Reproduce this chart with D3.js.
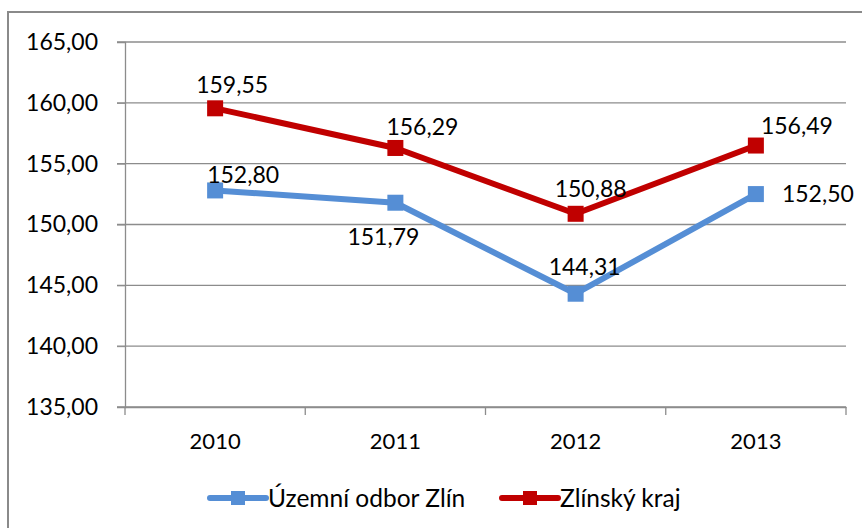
<!DOCTYPE html>
<html>
<head>
<meta charset="utf-8">
<script src="https://cdn.jsdelivr.net/npm/d3@7"></script>
<style>
  body { margin: 0; background: #fff; }
  svg { display: block; font-family: Lato, "Open Sans", sans-serif; }
</style>
</head>
<body>
<div id="chart"></div>
<script>
// Data
const years = ["2010", "2011", "2012", "2013"];
const uzemniOdbor = [152.80, 151.79, 144.31, 152.50];
const zlinskyKraj = [159.55, 156.29, 150.88, 156.49];
const yTicks = [135, 140, 145, 150, 155, 160, 165];
const seriesNames = ["Územní odbor Zlín", "Zlínský kraj"];

// label placement per point (dx from point centre, dy to baseline)
const labelOffsetsBlue = [[28, -7], [-12, 42], [9, -19], [62, 8]];
const labelOffsetsRed = [[17, -15], [27, -13], [15, -17], [41, -12]];

const width = 862, height = 528;
const margin = { top: 42, right: 16, bottom: 121, left: 125 };
const plotW = width - margin.left - margin.right,
  plotH = height - margin.top - margin.bottom;

const svg = d3.select("#chart").append("svg")
  .attr("width", width)
  .attr("height", height);

// outer chart border (right & bottom run off the picture)
svg.append("rect")
  .attr("x", 8).attr("y", 12)
  .attr("width", 870).attr("height", 540)
  .attr("fill", "none")
  .attr("stroke", "#8a8a8a")
  .attr("stroke-width", 2);

const g = svg.append("g")
  .attr("transform", "translate(" + margin.left + "," + margin.top + ")");

const x = d3.scalePoint().domain(years).range([0, plotW]).padding(0.5);
const xBand = d3.scaleBand().domain(years).range([0, plotW]);
const y = d3.scaleLinear().domain([135, 165]).range([plotH, 0]);

const fmt = v => d3.format(".2f")(v).replace(".", ",");

// gridlines
g.selectAll(".grid")
  .data(yTicks)
  .enter().append("line")
  .attr("x1", -8).attr("x2", plotW)
  .attr("y1", d => y(d)).attr("y2", d => y(d))
  .attr("stroke", "#8c8c8c")
  .attr("stroke-width", 1.3);

// y axis
const yAxis = g.append("g")
  .call(d3.axisLeft(y).tickValues(yTicks).tickFormat(fmt).tickSize(8));
yAxis.select(".domain").attr("stroke", "#8c8c8c").attr("stroke-width", 1.3);
yAxis.selectAll(".tick line").attr("stroke", "#8c8c8c");
yAxis.selectAll("text")
  .attr("x", -27)
  .attr("fill", "#000")
  .style("font-size", "23px")
  .style("font-family", "Lato, sans-serif");

// x axis
const xAxis = g.append("g")
  .attr("transform", "translate(0," + plotH + ")")
  .call(d3.axisBottom(xBand).tickSize(0).tickSizeOuter(0));
xAxis.select(".domain").attr("stroke", "#8c8c8c").attr("stroke-width", 1.3);
xAxis.selectAll("text")
  .attr("y", 26)
  .attr("dy", "0.71em")
  .attr("fill", "#000")
  .style("font-size", "22px")
  .style("font-family", "Lato, sans-serif");

// category boundary ticks
const edges = years.map(d => xBand(d)).concat([plotW]);
g.selectAll(".xtick")
  .data(edges)
  .enter().append("line")
  .attr("x1", d => d).attr("x2", d => d)
  .attr("y1", plotH).attr("y2", plotH + 8)
  .attr("stroke", "#8c8c8c")
  .attr("stroke-width", 1.3);

const series = [
  { name: seriesNames[0], values: uzemniOdbor, color: "#558ed5", offsets: labelOffsetsBlue },
  { name: seriesNames[1], values: zlinskyKraj, color: "#c00000", offsets: labelOffsetsRed }
];

const line = d3.line()
  .x((d, i) => x(years[i]))
  .y(d => y(d));

series.forEach(s => {
  g.append("path")
    .datum(s.values)
    .attr("d", line)
    .attr("fill", "none")
    .attr("stroke", s.color)
    .attr("stroke-width", 6)
    .attr("stroke-linejoin", "round");

  g.selectAll(null)
    .data(s.values)
    .enter().append("rect")
    .attr("x", (d, i) => x(years[i]) - 8)
    .attr("y", d => y(d) - 8)
    .attr("width", 16).attr("height", 16)
    .attr("fill", s.color);

  g.selectAll(null)
    .data(s.values)
    .enter().append("text")
    .attr("x", (d, i) => x(years[i]) + s.offsets[i][0])
    .attr("y", (d, i) => y(d) + s.offsets[i][1])
    .attr("text-anchor", "middle")
    .style("font-size", "23px")
    .attr("fill", "#000")
    .text(fmt);
});

// legend
const legendX = [210, 502];
const legendY = 498;
const legend = svg.selectAll(".legend")
  .data(series)
  .enter().append("g")
  .attr("transform", (d, i) => "translate(" + legendX[i] + "," + legendY + ")");

legend.append("line")
  .attr("x1", 0).attr("x2", 56)
  .attr("y1", 0).attr("y2", 0)
  .attr("stroke", d => d.color)
  .attr("stroke-width", 6)
  .attr("stroke-linecap", "round");

legend.append("rect")
  .attr("x", 21).attr("y", -7)
  .attr("width", 14).attr("height", 14)
  .attr("fill", d => d.color);

legend.append("text")
  .attr("x", 58)
  .attr("dy", "0.35em")
  .style("font-size", "24.5px")
  .attr("fill", "#000")
  .text(d => d.name);
</script>
</body>
</html>
